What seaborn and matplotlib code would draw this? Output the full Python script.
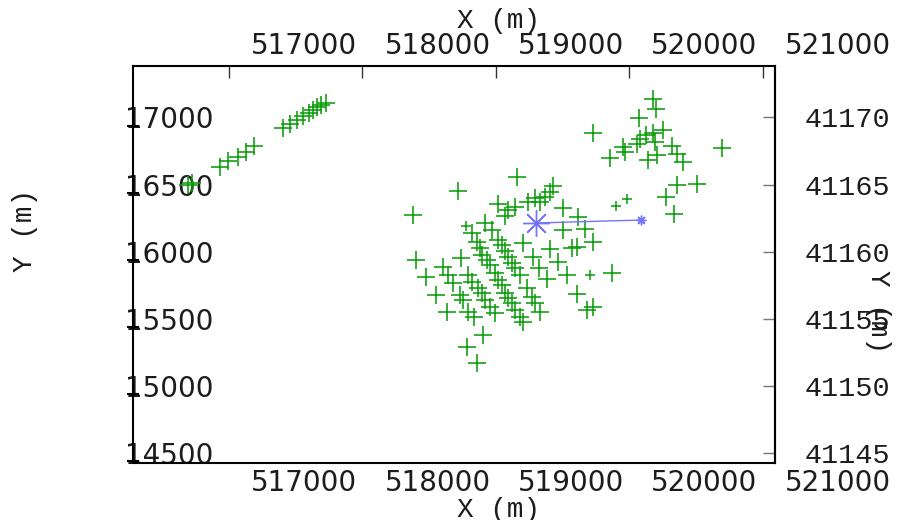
import matplotlib
matplotlib.use("Agg")
import matplotlib.pyplot as plt
import matplotlib.transforms as mtransforms
import seaborn as sns
import pandas as pd

# station positions (UTM easting / northing, m), large crosses
east_big = [
    516693, 516723, 516933, 516993, 517067, 517127, 517187, 517404, 517457, 517509,
    517554, 517599, 517629, 517659, 517689, 517727,
    519157, 518715, 518378, 519015, 518820, 518917, 518970, 519090, 519067, 519142,
    519240, 518858, 518880, 518895, 518932, 518955, 518992, 519015, 519045, 519067,
    519090, 519120, 519142, 519180, 519015, 519045, 519067, 519090, 519120, 519142,
    519180, 518401, 518476, 518550, 518633, 518603, 518640, 518678, 518738, 518790,
    518820, 518865, 518895, 518917, 518955, 518992, 518730, 518753, 518790, 518835,
    518902, 518783, 518858, 519404, 519367, 519292, 519329, 519427, 519502, 519614,
    519666, 519502, 519726, 519569, 519607, 519404, 519277, 519464, 519322, 519382,
    519532, 519869, 519232, 519269, 519292, 519329, 519202, 519607, 519681, 519726,
    519202,
    520176, 520198, 520071, 519726, 520176, 520251, 520123, 520078, 519951, 519966,
    520056, 520191, 520318, 520356, 520400, 519854, 520138, 520206, 520693, 520356,
    520505, 520273, 520333,
]
north_big = [
    4116496, 4116511, 4116631, 4116675, 4116705, 4116743, 4116787, 4116922, 4116952, 4116981,
    4117011, 4117034, 4117056, 4117078, 4117093, 4117108,
    4116556, 4116452, 4116273, 4116355, 4116138, 4116213, 4116161, 4116310, 4116265, 4116332,
    4116370, 4116071, 4116026, 4115974, 4115937, 4115900, 4115840, 4115788, 4115750, 4115691,
    4115653, 4115616, 4115564, 4115512, 4116086, 4116049, 4116004, 4115959, 4115915, 4115877,
    4115825, 4115937, 4115810, 4115676, 4115549, 4115885, 4115825, 4115765, 4115952, 4115825,
    4115773, 4115728, 4115691, 4115639, 4115586, 4115542, 4115676, 4115639, 4115549, 4115512,
    4115377, 4115288, 4115169, 4116444, 4116407, 4116399, 4116370, 4116489, 4116325, 4116258,
    4116168, 4116161, 4116071, 4116026, 4116034, 4116019, 4115959, 4115922, 4115877, 4115795,
    4115825, 4115840, 4115728, 4115661, 4115616, 4115549, 4115474, 4115683, 4115564, 4115586,
    4116064,
    4117138, 4117063, 4116996, 4116884, 4116884, 4116907, 4116869, 4116840, 4116780, 4116743,
    4116802, 4116817, 4116787, 4116728, 4116668, 4116698, 4116683, 4116720, 4116772, 4116496,
    4116504, 4116407, 4116280,
]

# small crosses
east_small = [518775, 519704, 519899, 519981]
north_small = [4116191, 4115825, 4116340, 4116392]

# blue trace: start -> end
trace_east = [519299, 520086]
trace_north = [4116213, 4116235]

x_ticks = [517000, 518000, 519000, 520000, 521000]
y_ticks = [4114500, 4115000, 4115500, 4116000, 4116500, 4117000]
y_left_labels = ["14500", "15000", "15500", "16000", "16500", "17000"]
y_right_labels = ["41145", "41150", "41155", "41160", "41165", "41170"]

sns.set_style("white")
plt.rcParams["font.family"] = ["DejaVu Sans"]

W, H = 900, 520
fig = plt.figure(figsize=(W / 100, H / 100), dpi=100)
ax = fig.add_axes([133 / W, 1 - 463 / H, 642 / W, 397 / H])

green = "#0a9c0a"
big = pd.DataFrame({"x": east_big, "y": north_big})
small = pd.DataFrame({"x": east_small, "y": north_small})
sns.scatterplot(data=big, x="x", y="y", marker="+", s=150, color=green,
                linewidth=1.15, ax=ax, zorder=3)
sns.scatterplot(data=small, x="x", y="y", marker="+", s=50, color=green,
                linewidth=1.1, ax=ax, zorder=3)

blue = "#7474ff"
sns.lineplot(x=trace_east, y=trace_north, sort=False, color=blue, lw=1.0,
             ax=ax, zorder=4)
ax.plot(trace_east[:1], trace_north[:1], ls="none", marker=(8, 2, 0), ms=19,
        mew=1.0, color=blue, zorder=5)
ax.plot(trace_east[1:], trace_north[1:], ls="none", marker=(8, 2, 0), ms=7,
        mew=1.0, color=blue, zorder=5)

ax.set_xlim(516281, 521090)
ax.set_ylim(4114423, 4117384)
ax.set_xlabel("")
ax.set_ylabel("")

for s in ax.spines.values():
    s.set_linewidth(1.5)
    s.set_color("black")

txt = "#1c1c1c"

# x ticks on both sides, labels drawn shifted to the right
ax.set_xticks(x_ticks)
ax.set_xticklabels([str(v) for v in x_ticks])
ax.tick_params(axis="x", direction="in", length=8.6, width=1, color="#333333",
               top=True, labeltop=True, labelsize=20, pad=4, labelcolor=txt)
shift = mtransforms.ScaledTranslation(0.75, 0, fig.dpi_scale_trans)
for t in ax.xaxis.get_major_ticks():
    t.label1.set_transform(t.label1.get_transform() + shift)
    t.label2.set_transform(t.label2.get_transform() + shift)

# left y ticks
ax.set_yticks(y_ticks)
ax.set_yticklabels(y_left_labels)
ax.tick_params(axis="y", direction="in", length=8.6, width=1, color="#777777",
               labelsize=20, pad=5.8, labelcolor=txt)
for t in ax.yaxis.get_major_ticks():
    t.label1.set_horizontalalignment("left")
ax.set_yticks([v - 60 for v in y_ticks], minor=True)
ax.tick_params(axis="y", which="minor", direction="inout", length=9, width=1.5,
               color="black", left=True)

# right y axis
sec = ax.secondary_yaxis("right")
sec.set_yticks(y_ticks)
sec.set_yticklabels(y_right_labels, family="Liberation Mono")
sec.tick_params(direction="in", length=8.6, width=1, color="#777777",
                labelsize=20.5, pad=21.6, labelcolor=txt)
sec.spines["right"].set_linewidth(1.5)

mono = "Liberation Mono"
fig.text(499 / W, 1 - 21 / H, "X (m)", ha="center", va="center", family=mono,
         fontsize=20, color=txt)
fig.text(499 / W, 1 - 510 / H, "X (m)", ha="center", va="center", family=mono,
         fontsize=20, color=txt)
fig.text(25 / W, 1 - 230 / H, "Y (m)", ha="center", va="center", family=mono,
         fontsize=20, rotation=90, color=txt)
fig.text(878 / W, 1 - 312 / H, "Y (m)", ha="center", va="center", family=mono,
         fontsize=20, rotation=270, color=txt)

fig.savefig("out.png", dpi=100)
